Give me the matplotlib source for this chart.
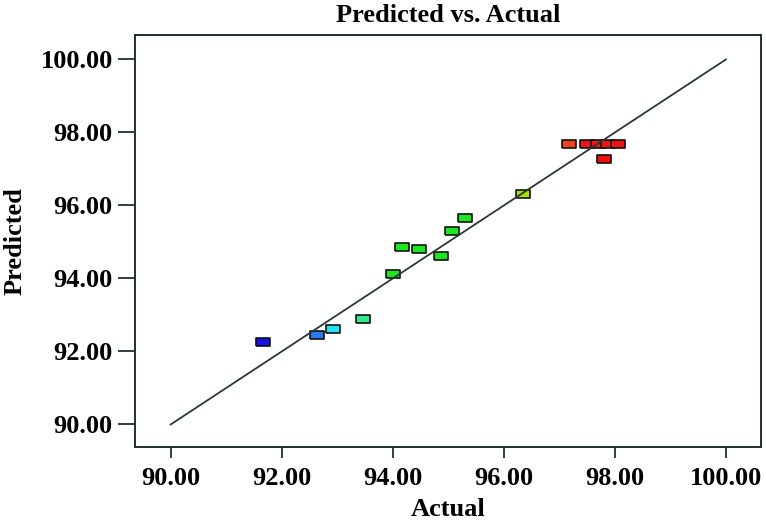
import matplotlib
matplotlib.use("Agg")
import matplotlib.pyplot as plt
import numpy as np

actual = [91.67, 92.63, 92.93, 93.47, 94.00, 94.17, 94.48, 94.86, 95.07, 95.30,
          96.34, 97.18, 97.49, 97.70, 97.87, 98.06, 97.81]
predicted = [92.27, 92.45, 92.61, 92.88, 94.12, 94.85, 94.81, 94.62, 95.31, 95.67,
             96.32, 97.68, 97.68, 97.68, 97.68, 97.68, 97.27]
point_colors = ['#1414e6', '#2a78f0', '#22e6f0', '#34e68c', '#1ee61e', '#1ee61e',
                '#1ee61e', '#1ee61e', '#1ee61e', '#1ee61e', '#a8e000', '#f04414',
                '#f01414', '#f01414', '#f01414', '#f01414', '#f01010']
ticks = [90, 92, 94, 96, 98, 100]
ref_line = [90, 100]

plt.rcParams['font.family'] = ['Liberation Serif', 'DejaVu Serif']
plt.rcParams['font.weight'] = 'bold'

fig = plt.figure(figsize=(7.66, 5.23), dpi=100)
ax = fig.add_axes([0.1762, 0.1444, 0.8179, 0.7887])

rect = [(-1, -0.6), (1, -0.6), (1, 0.6), (-1, 0.6), (-1, -0.6)]
for xa, yp, c in zip(actual, predicted, point_colors):
    ax.plot([xa], [yp], linestyle='none', marker=rect, markersize=9.8,
            markerfacecolor=c, markeredgecolor='#101010', markeredgewidth=1.2, zorder=2)
ax.plot(ref_line, ref_line, color='#2a3838', linewidth=1.3, zorder=3)

ax.set_xlim(89.357, 100.64)
ax.set_ylim(89.37, 100.67)
ax.set_xticks(ticks)
ax.set_yticks(ticks)
ax.set_xticklabels([f"{t:.2f}" for t in ticks])
ax.set_yticklabels([f"{t:.2f}" for t in ticks])
ax.tick_params(axis='x', direction='out', length=8, width=1.3, pad=6, labelsize=19, colors='#203030', labelcolor='black')
ax.tick_params(axis='y', direction='out', length=12, width=1.3, pad=4, labelsize=19, colors='#203030', labelcolor='black')
for s in ax.spines.values():
    s.set_color('#203030')
    s.set_linewidth(1.4)

ax.set_xlabel('Actual', fontsize=19, fontweight='bold', labelpad=6)
ax.set_ylabel('Predicted', fontsize=19, fontweight='bold', labelpad=10)
ax.set_title('Predicted vs. Actual', fontsize=19, fontweight='bold', pad=9)

fig.savefig('out.png', dpi=100)
